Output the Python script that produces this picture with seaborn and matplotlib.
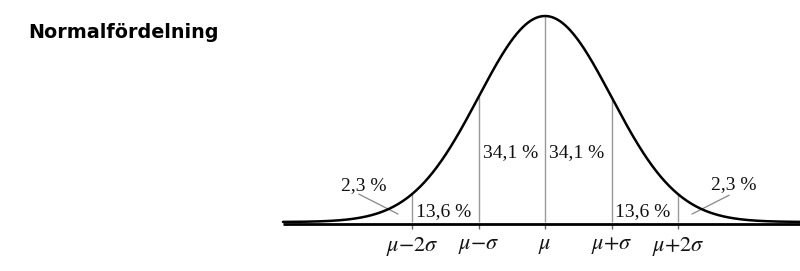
import numpy as np
import pandas as pd
import matplotlib
matplotlib.use("Agg")
import matplotlib.pyplot as plt
import seaborn as sns

# ---- data ----
mu = 0.0
sigma = 1.0
tick_positions = [-2, -1, 0, 1, 2]          # in units of sigma
tick_labels = [r"$\mu{-}2\sigma$", r"$\mu{-}\sigma$", r"$\mu$", r"$\mu{+}\sigma$", r"$\mu{+}2\sigma$"]
area_labels = ["2,3 %", "13,6 %", "34,1 %", "34,1 %", "13,6 %", "2,3 %"]
area_label_x = [-2.72, -1.52, -0.52, 0.47, 1.47, 2.84]
area_label_y = [0.071, 0.021, 0.135, 0.135, 0.021, 0.073]
x_start, x_end = -3.94, 3.9

z = np.linspace(x_start, x_end, 600)
pdf = np.exp(-0.5 * ((z - mu) / sigma) ** 2) / (sigma * np.sqrt(2 * np.pi))
df = pd.DataFrame({"z": z, "pdf": pdf})

sns.set_theme(style="white")
plt.rcParams["mathtext.fontset"] = "stix"
plt.rcParams["font.family"] = ["Liberation Serif", "DejaVu Serif"]

fig = plt.figure(figsize=(8, 2.71), dpi=100)
ax = fig.add_axes([0, 0, 1, 1])

px_per_sigma = 66.5
px_per_unit = 206 / pdf.max()
x0 = -545 / px_per_sigma
x1 = 255 / px_per_sigma
yb = -(271 - 222) / px_per_unit
yt = 222 / px_per_unit
ax.set_xlim(x0, x1)
ax.set_ylim(yb, yt)
ax.axis("off")

def npdf(v):
    return np.exp(-0.5 * ((v - mu) / sigma) ** 2) / (sigma * np.sqrt(2 * np.pi))

# vertical lines
for t in tick_positions:
    ax.vlines(t, 0, npdf(t), color="#999999", lw=1.0, zorder=1)
    ax.vlines(t, -2 / px_per_unit, -7 / px_per_unit, color="#666666", lw=1.0, zorder=1)

# baseline
ax.hlines(-2 / px_per_unit, x_start, x1, color="black", lw=2.0, zorder=2)

# curve
sns.lineplot(data=df, x="z", y="pdf", color="black", lw=1.8, ax=ax, zorder=3)
ax.axis("off")

# area labels
for lab, lx, ly in zip(area_labels, area_label_x, area_label_y):
    ax.text(lx, ly, lab, ha="center", va="center", fontsize=14, color="#111111")

# leader lines for tails
ax.plot([-2.80, -2.21], [0.054, 0.0154], color="#888888", lw=0.9)
ax.plot([2.21, 2.77], [0.0154, 0.052], color="#888888", lw=0.9)

# tick labels
for t, lab in zip(tick_positions, tick_labels):
    ax.text(t, -24 / px_per_unit, lab, ha="center", va="center", fontsize=16, color="#111111")

fig.text(28 / 800, 1 - 33 / 271, "Normalfördelning", ha="left", va="center",
         fontsize=13.8, fontweight="bold", family="DejaVu Sans", color="black")

fig.savefig("out.png", dpi=100)
